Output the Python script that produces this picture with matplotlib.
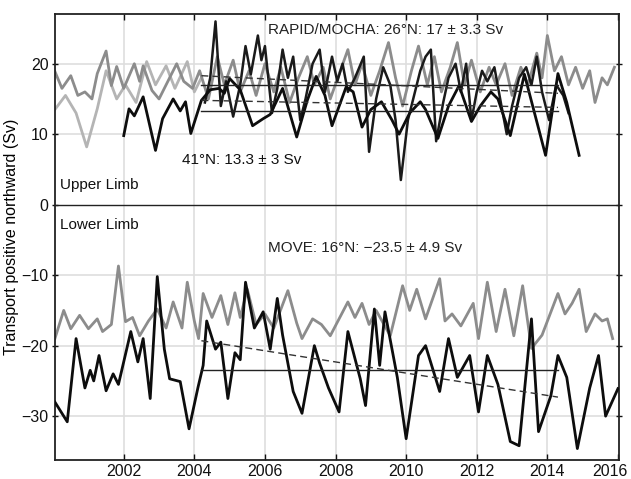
import matplotlib
matplotlib.use("Agg")
import matplotlib.pyplot as plt
import matplotlib.transforms as mtransforms

plt.rcParams['font.family'] = ['Liberation Sans', 'DejaVu Sans']

# ---- Upper limb -------------------------------------------------------
# grey background record (2000-2016)
upper_grey_t = [2000.05, 2000.25, 2000.50, 2000.70, 2000.90, 2001.10, 2001.25, 2001.50,
                2001.65, 2001.80, 2002.00, 2002.30, 2002.45, 2002.55, 2002.80, 2003.00,
                2003.25, 2003.50, 2003.70, 2003.95, 2004.15, 2004.40, 2004.65, 2004.85,
                2005.10, 2005.30, 2005.55, 2005.75, 2006.00, 2006.25, 2006.45, 2006.70,
                2006.95, 2007.20, 2007.40, 2007.65, 2007.85, 2008.10, 2008.35, 2008.55,
                2008.75, 2009.00, 2009.25, 2009.50, 2009.70, 2009.90, 2010.15, 2010.35,
                2010.60, 2010.80, 2011.00, 2011.25, 2011.45, 2011.65, 2011.85, 2012.10,
                2012.35, 2012.55, 2012.80, 2013.00, 2013.25, 2013.45, 2013.70, 2013.85,
                2014.00, 2014.20, 2014.40, 2014.60, 2014.80, 2015.00, 2015.20, 2015.35,
                2015.55, 2015.70, 2015.90]
upper_grey_v = [18.9, 16.5, 18.3, 15.5, 16.0, 15.0, 18.6, 21.8,
                16.9, 19.6, 16.5, 20.0, 17.5, 19.7, 16.2, 15.0,
                17.5, 20.0, 17.5, 16.5, 19.0, 15.0, 21.0, 17.0,
                20.5, 16.0, 19.0, 15.5, 20.0, 16.0, 19.5, 14.5,
                18.0, 21.0, 17.0, 19.5, 15.0, 18.5, 22.0, 17.0,
                20.0, 15.5, 19.0, 23.0, 18.0, 14.0, 19.0, 22.5,
                17.0, 21.0, 16.0, 19.5, 23.0, 17.0, 20.5, 16.0,
                19.5, 17.0, 20.0, 15.5, 19.5, 17.0, 21.5, 18.0,
                24.0, 19.0, 21.0, 17.0, 19.5, 16.5, 19.0, 14.5,
                18.0, 17.0, 19.5]

# lighter grey early record (2000-2004)
upper_light_t = [2000.05, 2000.35, 2000.65, 2000.95, 2001.25, 2001.50, 2001.80, 2002.05,
                 2002.35, 2002.65, 2002.90, 2003.20, 2003.45, 2003.80, 2004.00, 2004.20]
upper_light_v = [13.5, 15.5, 13.0, 8.2, 13.6, 19.0, 15.0, 17.0,
                 14.5, 20.3, 17.0, 19.7, 16.5, 20.3, 16.0, 18.0]

# RAPID/MOCHA 26N
rapid_t = [2004.30, 2004.45, 2004.60, 2004.75, 2004.90, 2005.10, 2005.30, 2005.45,
           2005.60, 2005.80, 2005.90, 2006.00, 2006.20, 2006.35, 2006.50, 2006.65,
           2006.80, 2007.00, 2007.15, 2007.35, 2007.55, 2007.70, 2007.90, 2008.05,
           2008.20, 2008.35, 2008.55, 2008.80, 2008.95, 2009.15, 2009.35, 2009.55,
           2009.70, 2009.85, 2010.05, 2010.20, 2010.40, 2010.55, 2010.70, 2010.85,
           2011.05, 2011.20, 2011.40, 2011.55, 2011.70, 2011.85, 2012.00, 2012.15,
           2012.30, 2012.50, 2012.70, 2012.85, 2013.00, 2013.20, 2013.40, 2013.55,
           2013.70, 2013.85, 2014.05, 2014.25, 2014.45, 2014.60]
rapid_v = [14.5, 18.0, 26.0, 14.0, 17.5, 12.5, 17.0, 22.5,
           18.5, 24.0, 20.5, 22.5, 13.0, 16.5, 22.0, 18.0,
           21.0, 12.0, 15.0, 20.0, 22.0, 16.0, 21.0, 17.5,
           20.0, 16.0, 18.0, 21.0, 7.5, 15.0, 19.5, 17.0,
           12.0, 3.5, 12.0, 15.0, 19.0, 21.0, 22.0, 9.0,
           14.5, 18.0, 20.0, 16.0, 20.0, 12.0, 16.0, 19.0,
           17.5, 19.5, 14.0, 10.0, 14.0, 18.0, 19.5, 17.0,
           21.0, 16.0, 12.0, 17.0, 15.5, 13.0]

# 41N record
n41_t = [2002.00, 2002.15, 2002.30, 2002.55, 2002.90, 2003.10, 2003.40, 2003.60,
         2003.75, 2003.90, 2004.20, 2004.45, 2004.70, 2004.85, 2005.00, 2005.30,
         2005.65, 2005.95, 2006.15, 2006.50, 2006.90, 2007.20, 2007.45, 2007.70,
         2007.90, 2008.30, 2008.50, 2008.75, 2009.00, 2009.30, 2009.60, 2009.80,
         2010.10, 2010.40, 2010.55, 2010.90, 2011.20, 2011.50, 2011.85, 2012.10,
         2012.40, 2012.60, 2012.95, 2013.35, 2013.95, 2014.30, 2014.55, 2014.90]
n41_v = [9.8, 13.6, 12.6, 15.3, 7.7, 12.2, 15.0, 13.3,
         14.6, 10.1, 14.8, 16.3, 16.5, 15.8, 17.9, 16.3,
         11.2, 12.2, 12.8, 16.5, 9.6, 14.8, 18.2, 15.5,
         11.2, 16.7, 16.0, 11.0, 13.5, 14.6, 12.0, 10.0,
         13.0, 14.6, 13.5, 9.4, 14.0, 16.9, 11.8, 14.0,
         16.0, 15.0, 9.8, 18.5, 7.0, 18.6, 14.5, 7.0]

# ---- Lower limb -------------------------------------------------------
lower_grey_t = [2000.05, 2000.30, 2000.50, 2000.75, 2001.00, 2001.25, 2001.40, 2001.65,
                2001.85, 2002.05, 2002.25, 2002.45, 2002.70, 2002.95, 2003.20, 2003.40,
                2003.65, 2003.80, 2004.00, 2004.12, 2004.25, 2004.50, 2004.75, 2004.95,
                2005.15, 2005.30, 2005.50, 2005.75, 2006.00, 2006.25, 2006.65, 2006.90,
                2007.05, 2007.35, 2007.60, 2007.85, 2008.35, 2008.55, 2008.75, 2008.95,
                2009.15, 2009.55, 2009.90, 2010.10, 2010.30, 2010.55, 2010.95, 2011.10,
                2011.30, 2011.55, 2011.90, 2012.05, 2012.30, 2012.55, 2012.80, 2013.05,
                2013.30, 2013.55, 2013.85, 2014.30, 2014.50, 2014.70, 2014.90, 2015.10,
                2015.35, 2015.55, 2015.70, 2015.85]
lower_grey_v = [-19.0, -15.0, -17.6, -15.7, -17.6, -16.2, -18.0, -17.0,
                -8.7, -16.6, -16.0, -18.6, -16.5, -14.8, -17.5, -13.8,
                -17.5, -11.0, -16.5, -19.0, -12.6, -16.0, -12.9, -17.0,
                -12.5, -16.0, -12.0, -17.0, -15.5, -17.5, -12.2, -16.8,
                -19.0, -16.2, -17.0, -18.6, -13.8, -16.0, -14.0, -17.0,
                -15.0, -18.6, -11.5, -15.0, -12.0, -16.2, -10.5, -16.5,
                -15.5, -17.2, -14.0, -19.0, -11.0, -18.0, -12.0, -18.6,
                -11.5, -20.4, -18.5, -12.6, -15.5, -14.0, -12.0, -18.0,
                -15.5, -16.5, -16.2, -19.0]

# MOVE 16N
move_t = [2000.05, 2000.40, 2000.65, 2000.90, 2001.05, 2001.15, 2001.30, 2001.50,
          2001.70, 2001.85, 2002.20, 2002.40, 2002.55, 2002.75, 2002.95, 2003.15,
          2003.30, 2003.60, 2003.85, 2004.10, 2004.25, 2004.35, 2004.60, 2004.75,
          2004.95, 2005.15, 2005.30, 2005.45, 2005.70, 2005.95, 2006.15, 2006.35,
          2006.50, 2006.80, 2007.05, 2007.40, 2007.55, 2007.80, 2008.10, 2008.35,
          2008.70, 2008.85, 2009.10, 2009.25, 2009.40, 2009.75, 2010.00, 2010.35,
          2010.55, 2010.95, 2011.20, 2011.45, 2011.80, 2012.05, 2012.30, 2012.60,
          2012.95, 2013.20, 2013.55, 2013.75, 2014.10, 2014.30, 2014.55, 2014.85,
          2015.20, 2015.45, 2015.65, 2016.00]
move_v = [-28.0, -30.8, -19.0, -26.0, -23.5, -25.0, -21.4, -26.4,
          -24.0, -25.5, -18.0, -22.3, -19.0, -27.5, -10.2, -20.5,
          -24.7, -25.1, -31.8, -26.0, -22.8, -16.5, -20.5, -19.5,
          -27.5, -21.0, -22.0, -11.0, -17.5, -15.2, -20.5, -13.3,
          -18.5, -26.5, -29.6, -20.0, -22.5, -26.0, -29.4, -18.0,
          -24.7, -28.5, -14.8, -22.8, -15.2, -24.5, -33.2, -21.4,
          -20.0, -26.5, -19.0, -24.5, -21.4, -29.4, -21.4, -25.5,
          -33.6, -34.2, -16.2, -32.2, -27.1, -21.4, -24.5, -34.6,
          -26.0, -21.4, -30.0, -26.1]

# ---- Means and trends -------------------------------------------------
mean_span = [2004.2, 2014.3]
rapid_mean = 17.0
n41_mean = 13.3
move_mean = -23.5
rapid_trend = [18.3, 15.8]
n41_trend = [14.8, 13.8]
move_trend = [-19.3, -27.3]

year_ticks = [2002, 2004, 2006, 2008, 2010, 2012, 2014, 2016]
sv_ticks = [-30, -20, -10, 0, 10, 20]

fig = plt.figure(figsize=(6.31, 4.79), dpi=100)
ax = fig.add_axes([0.087, 0.040, 0.894, 0.930])

grid_c = '#dedede'
for yv in [-30, -20, -10, 10, 20]:
    ax.axhline(yv, color=grid_c, lw=1.2, zorder=0)
for xv in year_ticks[:-1]:
    ax.axvline(xv, color=grid_c, lw=1.2, zorder=0)

ax.plot(upper_light_t, upper_light_v, color='#b4b4b4', lw=2.0, zorder=1)
ax.plot(upper_grey_t, upper_grey_v, color='#8c8c8c', lw=2.0, zorder=2)
ax.plot(lower_grey_t, lower_grey_v, color='#8c8c8c', lw=2.0, zorder=2)

ax.plot(rapid_t, rapid_v, color='#1a1a1a', lw=1.8, zorder=3)
ax.plot(n41_t, n41_v, color='#0d0d0d', lw=2.0, zorder=4)
ax.plot(move_t, move_v, color='#0d0d0d', lw=2.0, zorder=4)

for m in [rapid_mean, n41_mean, move_mean]:
    ax.plot(mean_span, [m, m], color='#222222', lw=1.0, zorder=5)
for tr in [rapid_trend, n41_trend, move_trend]:
    ax.plot(mean_span, tr, color='#333333', lw=1.0, ls=(0, (5, 3)), zorder=5)

ax.axhline(0, color='#222222', lw=1.0, zorder=5)

fs = 11
ax.text(2006.1, 24.8, 'RAPID/MOCHA: 26°N: 17 ± 3.3 Sv', fontsize=fs, va='center', color='#222222')
ax.text(2003.65, 6.4, '41°N: 13.3 ± 3 Sv', fontsize=fs, va='center', color='#111111')
ax.text(2000.2, 2.8, 'Upper Limb', fontsize=fs, va='center', color='#111111')
ax.text(2000.2, -2.9, 'Lower Limb', fontsize=fs, va='center', color='#111111')
ax.text(2006.1, -6.1, 'MOVE: 16°N: \u221223.5 ± 4.9 Sv', fontsize=fs, va='center', color='#222222')

ax.set_xlim(2000.05, 2016.03)
ax.set_ylim(-36.2, 27.0)
ax.set_xticks(year_ticks)
ax.set_yticks(sv_ticks)
ax.tick_params(axis='both', labelsize=11.5, colors='#111111', width=1.0, length=4)
ax.tick_params(axis='x', direction='in', top=True, pad=3)
ax.tick_params(axis='y', direction='inout', right=True, length=5, pad=2)
for sp in ax.spines.values():
    sp.set_linewidth(1.3)
    sp.set_color('#222222')

# keep the last year label inside the figure edge
last = ax.get_xticklabels()[-1]
last.set_horizontalalignment('right')
last.set_transform(last.get_transform() +
                   mtransforms.ScaledTranslation(10 / 100, 0, fig.dpi_scale_trans))

ax.set_ylabel('Transport positive northward (Sv)', fontsize=11.5, labelpad=2)

fig.savefig('out.png', dpi=100)
